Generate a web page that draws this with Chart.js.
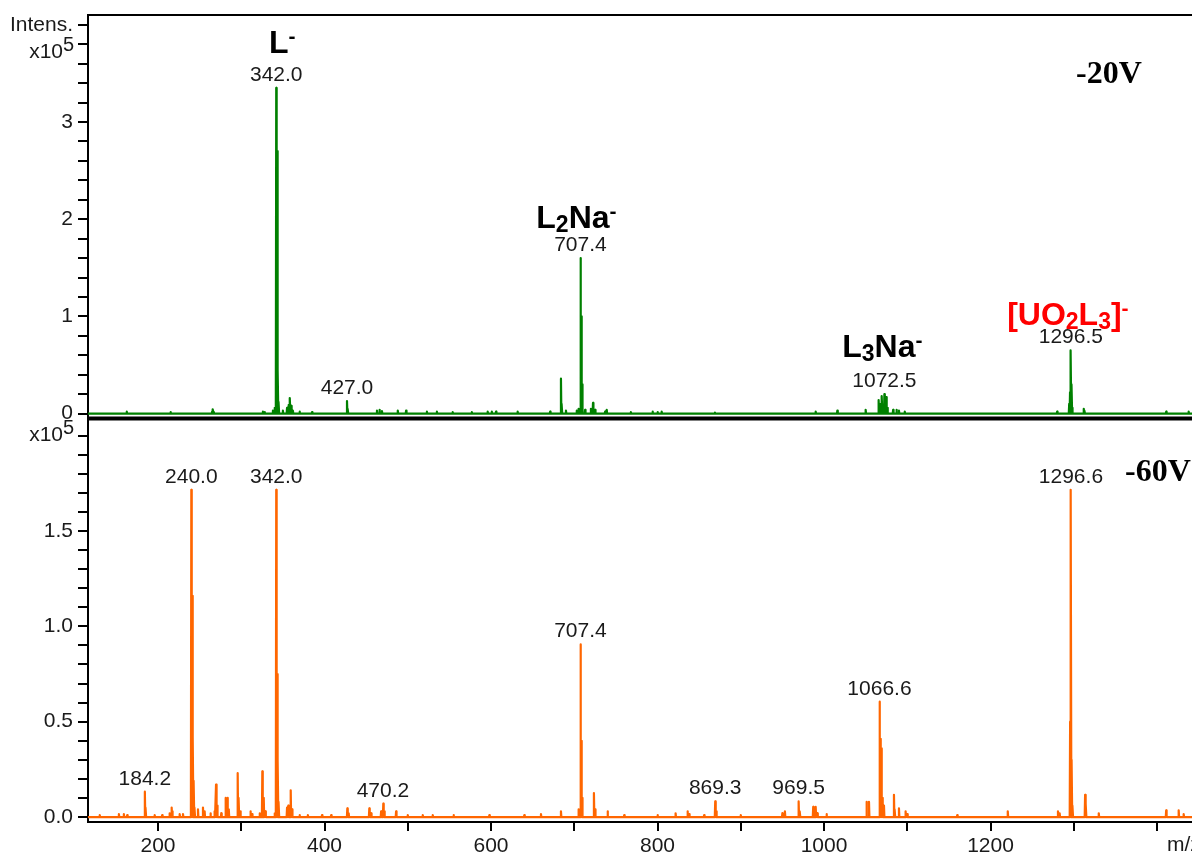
<!DOCTYPE html>
<html>
<head>
<meta charset="utf-8">
<script src="https://cdn.jsdelivr.net/npm/chart.js@4.4.1/dist/chart.umd.min.js"></script>
<style>
  html, body { margin: 0; padding: 0; background: #fff; }
  #spec { display: block; }
</style>
</head>
<body>
<canvas id="spec" width="1192" height="854"></canvas>
<script>
// -20V spectrum (green), intensity in units of 10^5
const topMz = [162.5, 215, 265, 266, 267, 326, 328, 338, 340, 342, 343, 344, 345, 350, 355, 357, 358.5, 360, 362, 370, 385,
    427, 428, 463, 466, 469, 488, 498, 523, 535, 554, 577, 596, 601, 606, 632, 671, 684, 685, 690, 703, 705,
    707.4, 708.4, 709.4, 713, 720, 722.5, 725, 737, 739, 768, 794, 800, 805, 869, 990, 1016, 1050,
    1065.6, 1068, 1069.5, 1072.5, 1074.5, 1076, 1083, 1087, 1090, 1097, 1280,
    1294.5, 1295.5, 1296.5, 1297.5, 1298.5, 1312, 1313, 1411, 1438];
const topInt = [0.02, 0.015, 0.02, 0.045, 0.02, 0.02, 0.015, 0.03, 0.06, 3.35, 2.7, 0.45, 0.12, 0.03, 0.06, 0.09, 0.16, 0.08, 0.03, 0.02, 0.015,
    0.13, 0.05, 0.03, 0.04, 0.025, 0.03, 0.03, 0.02, 0.02, 0.015, 0.015, 0.02, 0.02, 0.02, 0.02, 0.02, 0.36, 0.1, 0.03, 0.03, 0.05,
    1.6, 1.0, 0.3, 0.04, 0.05, 0.11, 0.04, 0.02, 0.04, 0.015, 0.02, 0.015, 0.02, 0.01, 0.02, 0.03, 0.04,
    0.14, 0.1, 0.18, 0.2, 0.17, 0.06, 0.04, 0.04, 0.03, 0.02, 0.02,
    0.1, 0.22, 0.65, 0.3, 0.06, 0.05, 0.03, 0.02, 0.02];

// -60V spectrum (orange)
const botMz = [130, 153, 159, 163, 184.2, 185.2, 196, 205, 214, 216.4, 217.5, 226, 230, 240, 241, 242, 243, 244, 248, 254, 256,
    263, 268, 269.7, 271, 276, 281.3, 283.5, 285, 295.7, 297, 299, 311, 313, 322, 325.3, 327, 329, 340,
    342, 343, 344, 345, 355, 356.5, 359.4, 361, 370, 380, 397, 408, 427.4, 429, 453.8, 456, 468, 470.6, 472, 486,
    500, 518, 530, 555, 598, 640, 660, 684, 705, 707.4, 708.4, 709.4, 723.6, 725, 740, 760, 800, 821.7, 836, 838, 856,
    869.3, 870.5, 900, 950, 953, 969.5, 971, 987, 990, 992, 1003, 1051, 1054, 1066.6, 1067.6, 1068.6, 1070, 1072,
    1084, 1085, 1090, 1098, 1100, 1160, 1220.7, 1281, 1283, 1295.6, 1296.6, 1297.6, 1298.6, 1313.6, 1314.6, 1330,
    1411, 1426, 1432];
const botInt = [0.01, 0.015, 0.015, 0.01, 0.133, 0.05, 0.01, 0.01, 0.02, 0.05, 0.03, 0.015, 0.015, 1.716, 1.16, 0.42, 0.19, 0.05, 0.04, 0.05, 0.03,
    0.02, 0.03, 0.17, 0.06, 0.02, 0.1, 0.1, 0.04, 0.23, 0.1, 0.03, 0.03, 0.015, 0.02, 0.24, 0.1, 0.03, 0.02,
    1.716, 0.75, 0.3, 0.08, 0.05, 0.06, 0.14, 0.04, 0.01, 0.01, 0.01, 0.01, 0.045, 0.02, 0.045, 0.02, 0.03, 0.07, 0.03, 0.03,
    0.01, 0.01, 0.01, 0.01, 0.01, 0.01, 0.015, 0.03, 0.04, 0.905, 0.4, 0.1, 0.126, 0.04, 0.03, 0.01, 0.01, 0.02, 0.03, 0.015, 0.01,
    0.082, 0.03, 0.01, 0.02, 0.03, 0.082, 0.03, 0.053, 0.053, 0.02, 0.015, 0.08, 0.08, 0.605, 0.41, 0.36, 0.1, 0.06,
    0.117, 0.04, 0.045, 0.03, 0.015, 0.01, 0.03, 0.03, 0.02, 0.5, 1.716, 0.3, 0.06, 0.117, 0.07, 0.02,
    0.035, 0.035, 0.015];

const xTickLabels = [200, 400, 600, 800, 1000, 1200];
const topTickLabels = [0, 1, 2, 3];
const botTickLabels = [0, 0.5, 1, 1.5];

const topTags = ['342.0', '427.0', '707.4', '1072.5', '1296.5'];
const botTags = ['184.2', '240.0', '342.0', '470.2', '707.4', '869.3', '969.5', '1066.6', '1296.6'];

const MZ_MIN = 115.9;
const MZ_MAX = 1442;
const FONT = "'Liberation Sans', Arial, sans-serif";

// species names drawn above some of the tags
const species = [
    {tag: '342.0', dx: 6, lift: 28, color: '#000', parts: [['L'], ['-', 'sup']]},
    {tag: '707.4', dx: -4, lift: 23, color: '#000', parts: [['L'], ['2', 'sub'], ['Na'], ['-', 'sup']]},
    {tag: '1072.5', dx: -2, lift: 30, color: '#000', parts: [['L'], ['3', 'sub'], ['Na'], ['-', 'sup']]},
    {tag: '1296.5', dx: -3, lift: 18, color: '#ff0000', parts: [['[UO'], ['2', 'sub'], ['L'], ['3', 'sub'], [']'], ['-', 'sup']]}
];

function stickLine(mz, inten) {
    const pts = [{x: MZ_MIN, y: 0}];
    mz.forEach(function (m, i) {
        pts.push({x: m - 0.5, y: 0}, {x: m, y: inten[i]}, {x: m + 0.5, y: 0});
    });
    pts.push({x: MZ_MAX, y: 0});
    return pts;
}

function tagHeight(mz, inten, v) {
    let h = 0;
    mz.forEach(function (m, i) {
        if (Math.abs(m - v) <= 3) h = Math.max(h, inten[i]);
    });
    return h;
}

function partFont(kind) {
    if (kind === 'sub') return 'bold 23px ' + FONT;
    if (kind === 'sup') return 'bold 21px ' + FONT;
    return 'bold 32px ' + FONT;
}

function drawRich(ctx, parts, cx, base, color) {
    let w = 0;
    parts.forEach(function (p) {
        ctx.font = partFont(p[1]);
        w += ctx.measureText(p[0]).width;
    });
    let x = cx - w / 2;
    ctx.fillStyle = color;
    ctx.textAlign = 'left';
    ctx.textBaseline = 'alphabetic';
    parts.forEach(function (p) {
        ctx.font = partFont(p[1]);
        const off = p[1] === 'sub' ? 4 : (p[1] === 'sup' ? -10 : 0);
        ctx.fillText(p[0], x, base + off);
        x += ctx.measureText(p[0]).width;
    });
}

const decor = {
    id: 'decor',
    afterDraw: function (chart) {
        const ctx = chart.ctx;
        const a = chart.chartArea;
        const xs = chart.scales.x;
        const yt = chart.scales.yTop;
        const yb = chart.scales.yBot;
        ctx.save();

        // top frame and panel separator
        ctx.strokeStyle = '#000';
        ctx.lineWidth = 2;
        ctx.beginPath();
        ctx.moveTo(a.left - 1, a.top);
        ctx.lineTo(a.right, a.top);
        ctx.stroke();
        ctx.lineWidth = 4;
        ctx.beginPath();
        ctx.moveTo(a.left, yb.top);
        ctx.lineTo(a.right, yb.top);
        ctx.stroke();

        // peak m/z tags
        ctx.fillStyle = '#1a1a1a';
        ctx.font = '21px ' + FONT;
        ctx.textAlign = 'center';
        ctx.textBaseline = 'alphabetic';
        topTags.forEach(function (t) {
            const v = parseFloat(t);
            ctx.fillText(t, xs.getPixelForValue(v), yt.getPixelForValue(tagHeight(topMz, topInt, v)) - 7);
        });
        botTags.forEach(function (t) {
            const v = parseFloat(t);
            ctx.fillText(t, xs.getPixelForValue(v), yb.getPixelForValue(tagHeight(botMz, botInt, v)) - 7);
        });

        // species names
        species.forEach(function (s) {
            const v = parseFloat(s.tag);
            const base = yt.getPixelForValue(tagHeight(topMz, topInt, v)) - 7 - s.lift;
            drawRich(ctx, s.parts, xs.getPixelForValue(v) + s.dx, base, s.color);
        });

        // x10^5 multipliers
        ctx.fillStyle = '#1a1a1a';
        ctx.textAlign = 'right';
        ctx.font = '21px ' + FONT;
        ctx.fillText('x10', a.left - 25, a.top + 43);
        ctx.fillText('x10', a.left - 25, yb.top + 22);
        ctx.textAlign = 'left';
        ctx.font = '20px ' + FONT;
        ctx.fillText('5', a.left - 25, a.top + 36);
        ctx.fillText('5', a.left - 25, yb.top + 15);

        // axis unit
        ctx.font = '21px ' + FONT;
        ctx.fillText('m/z', xs.getPixelForValue(1400) + 10, xs.bottom - 3);

        // cone voltages
        ctx.fillStyle = '#000';
        ctx.font = "bold 32px 'Liberation Serif', 'Times New Roman', serif";
        ctx.fillText('-20V', 1076, a.top + 68);
        ctx.fillText('-60V', 1125, yb.top + 62);

        ctx.restore();
    }
};

const axisGrid = {drawOnChartArea: false, color: '#000', lineWidth: 2, tickLength: 10};
const axisBorder = {color: '#000', width: 2};

Chart.defaults.font.family = FONT;

const ctx = document.getElementById('spec').getContext('2d');
const myChart = new Chart(ctx, {
    type: 'line',
    data: {
        datasets: [
            {
                label: '-20V',
                data: stickLine(topMz, topInt),
                xAxisID: 'x',
                yAxisID: 'yTop',
                borderColor: '#008000',
                borderWidth: 2.2,
                borderJoinStyle: 'round',
                pointRadius: 0,
                tension: 0,
                fill: false
            },
            {
                label: '-60V',
                data: stickLine(botMz, botInt),
                xAxisID: 'x',
                yAxisID: 'yBot',
                borderColor: '#ff6600',
                borderWidth: 2.2,
                borderJoinStyle: 'round',
                pointRadius: 0,
                tension: 0,
                fill: false
            }
        ]
    },
    options: {
        responsive: false,
        animation: false,
        devicePixelRatio: 1,
        layout: {padding: {top: 15, left: 0, right: 0, bottom: 0}},
        plugins: {legend: {display: false}, tooltip: {enabled: false}},
        scales: {
            x: {
                type: 'linear',
                position: 'bottom',
                min: MZ_MIN,
                max: MZ_MAX,
                ticks: {
                    stepSize: 100,
                    autoSkip: false,
                    includeBounds: false,
                    maxRotation: 0,
                    padding: 3,
                    color: '#1a1a1a',
                    font: {size: 21},
                    callback: function (v) { return xTickLabels.includes(v) ? String(v) : ''; }
                },
                grid: {drawOnChartArea: false, color: '#000', lineWidth: 2, tickLength: 9},
                border: axisBorder,
                afterFit: function (s) { s.height = 32; s.paddingLeft = 0; s.paddingRight = 0; }
            },
            yTop: {
                type: 'linear',
                position: 'left',
                stack: 'panels',
                stackWeight: 1,
                weight: 1,
                min: -0.05,
                max: 4.1,
                ticks: {
                    stepSize: 0.2,
                    autoSkip: false,
                    includeBounds: false,
                    padding: 5,
                    color: '#1a1a1a',
                    font: {size: 21},
                    callback: function (v) {
                        const r = Math.round(v * 10) / 10;
                        if (r === 4) return 'Intens.';
                        return topTickLabels.includes(r) ? String(r) : '';
                    }
                },
                grid: axisGrid,
                border: axisBorder,
                afterFit: function (s) { s.width = 88; s.paddingTop = 0; s.paddingBottom = 0; }
            },
            yBot: {
                type: 'linear',
                position: 'left',
                stack: 'panels',
                stackWeight: 1,
                weight: 0,
                min: -0.026,
                max: 2.09,
                ticks: {
                    stepSize: 0.1,
                    autoSkip: false,
                    includeBounds: false,
                    padding: 5,
                    color: '#1a1a1a',
                    font: {size: 21},
                    callback: function (v) {
                        const r = Math.round(v * 10) / 10;
                        return botTickLabels.includes(r) ? r.toFixed(1) : '';
                    }
                },
                grid: axisGrid,
                border: axisBorder,
                afterFit: function (s) { s.width = 88; s.paddingTop = 0; s.paddingBottom = 0; }
            }
        }
    },
    plugins: [decor]
});
</script>
</body>
</html>
